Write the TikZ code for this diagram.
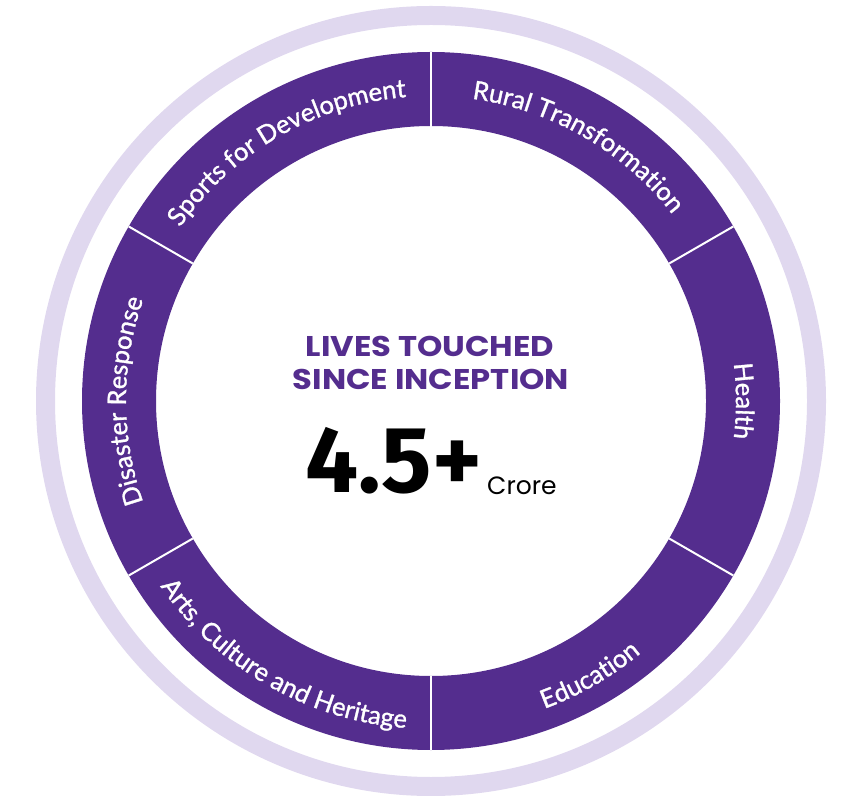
\documentclass[tikz,border=0pt]{standalone}
\usepackage{fontspec}
\setmainfont{Fira Sans}
\newfontface\lblface{Lato}[FakeBold=1.2]
\newfontfamily\titlefam{Poppins}
\newfontfamily\widetitlefam{Poppins}[FakeStretch=1.13]
\usetikzlibrary{decorations.text,calc}
\definecolor{bandpurple}{HTML}{542D8E}
\definecolor{ringlav}{HTML}{E0D8EF}
\newcommand{\lblfont}{\lblface\fontsize{25.5}{29}\selectfont}
\tikzset{
  divider/.style={white, line width=2pt},
  titletext/.style={text=bandpurple, font=\widetitlefam\fontsize{28.5}{33}\selectfont\bfseries, inner sep=0pt, anchor=base},
  bignum/.style={text=black, font=\fontsize{94}{100}\selectfont\bfseries, inner sep=0pt, anchor=base west},
  unittext/.style={text=black, font=\titlefam\fontsize{25}{30}\selectfont, inner sep=0pt, anchor=base west},
  arclabel/.style={decorate, decoration={text along path, text={|\lblfont|#1}, text align=center, text color=white}}
}
\begin{document}
\begin{tikzpicture}[x=1pt,y=1pt]
\useasboundingbox (0,0) rectangle (850,795);
\coordinate (c) at (431,394);
% outer lavender ring
\draw[ringlav, line width=19pt] (c) circle[radius=385.5];
% purple band
\fill[bandpurple, even odd rule] (c) circle[radius=349] (c) circle[radius=275];
% dividers
\foreach \a in {30,90,150,210,270,330}
  \draw[divider] ($(c)+(\a:275)$) -- ($(c)+(\a:349)$);
% labels on top half (clockwise)
\path[arclabel={Sports for Development}] ($(c)+(150:305)$) arc[start angle=150, end angle=90, radius=305];
\path[arclabel={Rural Transformation}] ($(c)+(90:305)$) arc[start angle=90, end angle=30, radius=305];
\path[arclabel={Health}] ($(c)+(30:305)$) arc[start angle=30, end angle=-30, radius=305];
\path[arclabel={Disaster Response}] ($(c)+(210:305)$) arc[start angle=210, end angle=150, radius=305];
% labels on bottom (counterclockwise)
\path[arclabel={Arts, Culture and Heritage}] ($(c)+(210:328)$) arc[start angle=210, end angle=270, radius=328];
\path[arclabel={Education}] ($(c)+(270:328)$) arc[start angle=270, end angle=330, radius=328];
% centre text
\node[titletext] (t1) at (430,438) {LIVES TOUCHED};
\node[titletext] (t2) at (431,405) {SINCE INCEPTION};
\node[bignum] (num) at (305,302) {4.5+};
\node[unittext] (unit) at (487,300) {Crore};
\end{tikzpicture}
\end{document}
